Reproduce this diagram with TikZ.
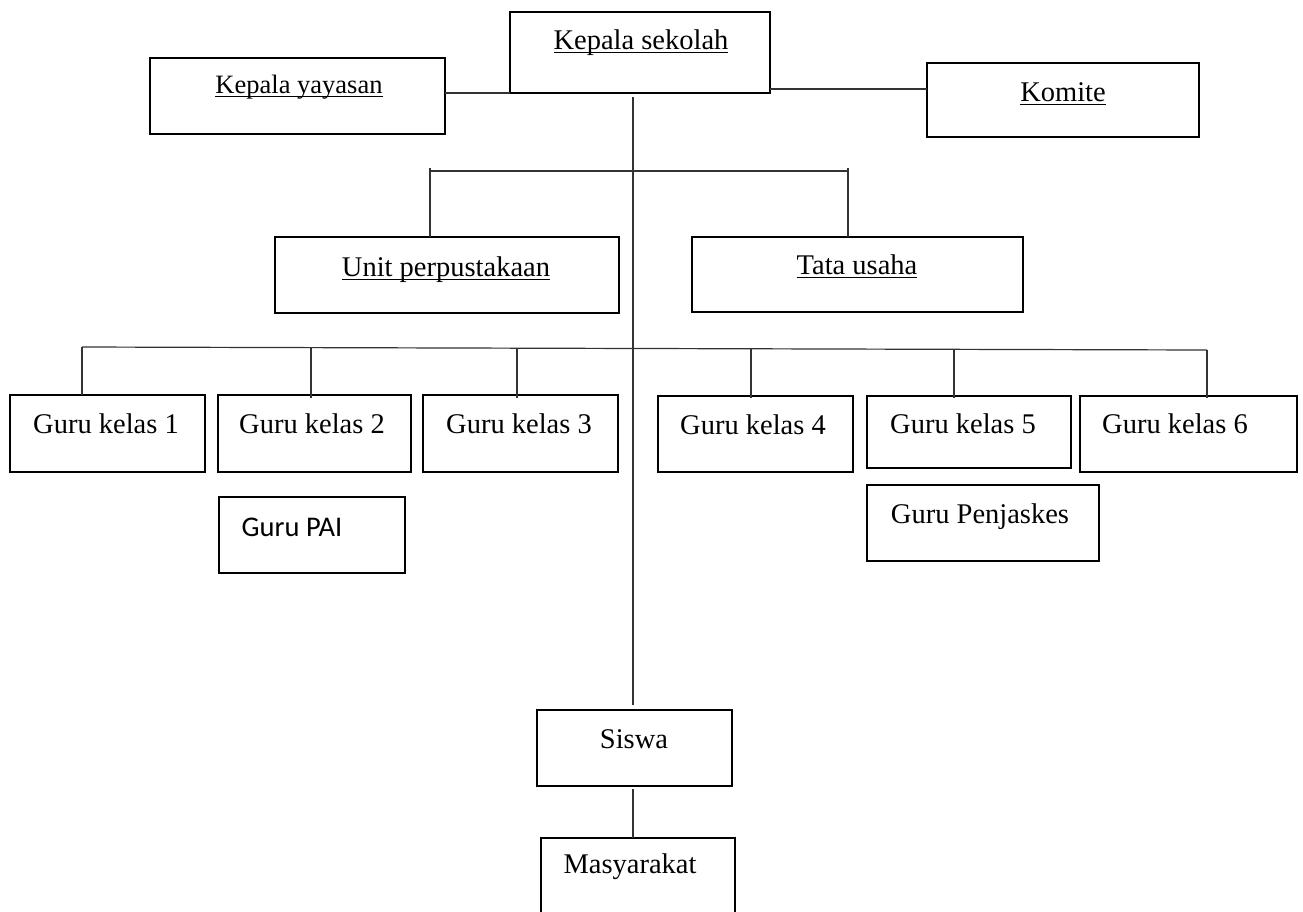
\documentclass[tikz,border=0pt]{standalone}
\usepackage{fontspec}
\setmainfont{Liberation Serif}
\newfontfamily\calibrifont{Carlito}
\newcommand\myul[1]{\setbox0\hbox{#1}\rlap{\rule[-4pt]{\wd0}{1.5pt}}\box0}
\newcommand\mybox[5]{\node[boxshape, minimum width={(#4-#2)*1pt}, minimum height={(#5-#3)*1pt}] (#1) at ({(#2+#4)/2},{(#3+#5)/2}) {};}
\begin{document}
\begin{tikzpicture}[x=1pt,y=-1pt,
  boxshape/.style={draw=black, line width=1.7pt, rectangle, inner sep=0pt, outer sep=0pt},
  txt/.style={anchor=base, inner sep=0pt, font=\fontsize{28.5}{34}\selectfont},
  conn/.style={draw=black!80, line width=1.2pt}]
\useasboundingbox (0,0) rectangle (1303,911);
\clip (0,0) rectangle (1303,911);
% boxes
\mybox{sekolah}{510}{12}{770}{93}
\mybox{yayasan}{150}{58}{445}{134}
\mybox{komite}{927}{63}{1199}{137}
\mybox{unit}{275}{237}{619}{313}
\mybox{tata}{692}{237}{1023}{312}
\mybox{g1}{10}{395}{205}{472}
\mybox{g2}{218}{395}{411}{472}
\mybox{g3}{423}{395}{618}{472}
\mybox{g4}{658}{396}{853}{472}
\mybox{g5}{867}{396}{1071}{468}
\mybox{g6}{1080}{396}{1297}{472}
\mybox{pai}{219}{497}{405}{573}
\mybox{penj}{867}{485}{1099}{561}
\mybox{siswa}{537}{710}{732}{786}
\mybox{masy}{541}{838}{735}{940}
% texts
\node[txt] (tsekolah) at (641,49) {\myul{Kepala sekolah}};
\node[txt, font=\fontsize{26.5}{32}\selectfont] (tyayasan) at (299,93) {\myul{Kepala yayasan}};
\node[txt] (tkomite) at (1063,101) {\myul{Komite}};
\node[txt] (tunit) at (446,276) {\myul{Unit perpustakaan}};
\node[txt] (ttata) at (857,274) {\myul{Tata usaha}};
\node[txt] (tg1) at (106,433) {Guru kelas 1};
\node[txt] (tg2) at (312,433) {Guru kelas 2};
\node[txt] (tg3) at (519,433) {Guru kelas 3};
\node[txt] (tg4) at (753,434) {Guru kelas 4};
\node[txt] (tg5) at (963,433) {Guru kelas 5};
\node[txt] (tg6) at (1175,433) {Guru kelas 6};
\node[txt, font=\calibrifont\fontsize{28.5}{34}\selectfont] (tpai) at (292,536) {Guru PAI};
\node[txt] (tpenj) at (980,523) {Guru Penjaskes};
\node[txt] (tsiswa) at (634,748) {Siswa};
\node[txt] (tmasy) at (630,873) {Masyarakat};
% connectors top
\draw[conn] (sekolah.south west -| yayasan.east) -- (sekolah.south west);
\draw[conn] ([yshift=4pt]sekolah.south east) -- ([yshift=4pt]sekolah.south east -| komite.west);
\coordinate (mtop) at (633,97);
\draw[conn] (mtop) -- ([yshift=5pt]siswa.north -| mtop);
% upper bus
\coordinate (ub1) at (430,171);
\coordinate (ub2) at (848,171);
\draw[conn] (ub1) -- (ub2);
\draw[conn] ([yshift=3pt]ub1) -- (ub1 |- unit.north);
\draw[conn] ([yshift=3pt]ub2) -- (ub2 |- tata.north);
% lower bus
\coordinate (lb1) at (82,347);
\coordinate (lb2) at (1207,350);
\coordinate (d2) at (311,347.6);
\coordinate (d3) at (517,348.2);
\coordinate (d4) at (751,348.8);
\coordinate (d5) at (954,349.3);
\draw[conn] (lb1) -- (lb2);
\draw[conn] (lb1) -- (lb1 |- g1.north);
\draw[conn] (d2) -- ([yshift=-3pt]d2 |- g2.north);
\draw[conn] (d3) -- ([yshift=-3pt]d3 |- g3.north);
\draw[conn] (d4) -- ([yshift=-2pt]d4 |- g4.north);
\draw[conn] (d5) -- ([yshift=-2pt]d5 |- g5.north);
\draw[conn] (lb2) -- ([yshift=-2pt]lb2 |- g6.north);
% bottom
\draw[conn] ([yshift=-3pt]siswa.south -| mtop) -- (masy.north -| mtop);
\end{tikzpicture}
\end{document}
